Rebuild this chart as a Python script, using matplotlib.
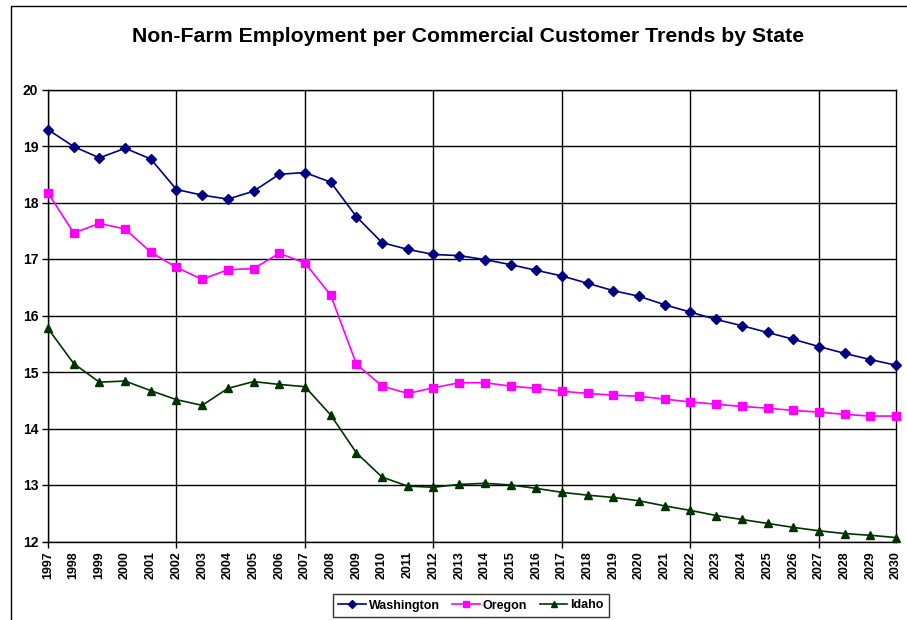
import matplotlib
matplotlib.use("Agg")
import matplotlib.pyplot as plt
from matplotlib.patches import Rectangle

years = list(range(1997, 2031))

washington = [19.29, 18.99, 18.79, 18.96, 18.77, 18.23, 18.13, 18.06, 18.20, 18.50,
              18.53, 18.36, 17.75, 17.29, 17.17, 17.08, 17.06, 16.99, 16.90, 16.80,
              16.70, 16.57, 16.44, 16.34, 16.19, 16.06, 15.93, 15.82, 15.70, 15.58,
              15.45, 15.33, 15.22, 15.12]
oregon = [18.17, 17.46, 17.63, 17.53, 17.12, 16.85, 16.64, 16.81, 16.83, 17.10,
          16.93, 16.36, 15.14, 14.75, 14.62, 14.72, 14.81, 14.81, 14.75, 14.71,
          14.66, 14.62, 14.59, 14.57, 14.52, 14.47, 14.43, 14.39, 14.36, 14.32,
          14.29, 14.25, 14.22, 14.22]
idaho = [15.77, 15.15, 14.82, 14.84, 14.67, 14.51, 14.41, 14.71, 14.83, 14.78,
         14.74, 14.24, 13.57, 13.14, 12.98, 12.96, 13.01, 13.03, 13.00, 12.94,
         12.87, 12.82, 12.78, 12.72, 12.63, 12.55, 12.46, 12.39, 12.32, 12.25,
         12.19, 12.14, 12.11, 12.07]

series = [
    ("Washington", washington, "#000080", "D", 5.0),
    ("Oregon", oregon, "#FF00FF", "s", 6.0),
    ("Idaho", idaho, "#003300", "^", 6.0),
]

plt.rcParams["font.family"] = ["Liberation Sans", "DejaVu Sans"]
plt.rcParams["font.weight"] = "bold"

fig = plt.figure(figsize=(9.07, 6.2), dpi=100)
ax = fig.add_axes([48 / 907, 1 - 541.5 / 620, 848 / 907, 452 / 620])

# chart-area frame (only top/left visible in the crop)
fig.patches.append(Rectangle((11 / 907, -0.1), 1.2, 1 - 6 / 620 + 0.1,
                             transform=fig.transFigure, fill=False,
                             edgecolor="black", lw=1.0))

handles = []
for name, vals, color, marker, ms in series:
    ln, = ax.plot(years, vals, color=color, lw=1.2, marker=marker, ms=ms,
                  mec=color, mfc=color, label=name, clip_on=False, zorder=3)
    handles.append(ln)

ax.set_xlim(1997, 2030)
ax.set_ylim(12, 20)
ax.set_yticks(range(12, 21))
ax.tick_params(axis="y", labelsize=10, length=4, width=1, pad=3)

major_years = years[::5]
minor_years = [y for y in years if y not in major_years]
ax.set_xticks(major_years)
ax.set_xticklabels([str(y) for y in major_years], rotation=90)
ax.set_xticks(minor_years, minor=True)
ax.set_xticklabels([str(y) for y in minor_years], rotation=90, minor=True)
ax.tick_params(axis="x", which="major", labelsize=9, length=4, width=1, pad=3)
ax.tick_params(axis="x", which="minor", labelsize=9, length=0, pad=7)

ax.grid(True, which="major", color="black", lw=1.0)
ax.set_axisbelow(True)
for sp in ax.spines.values():
    sp.set_linewidth(1.0)
    sp.set_color("black")

fig.text(0.516, 1 - 37 / 620, "Non-Farm Employment per Commercial Customer Trends by State",
         ha="center", va="center", fontsize=15.3, fontweight="bold")

leg = fig.legend(handles=handles, loc="center", bbox_to_anchor=(471 / 907, 1 - 605.5 / 620),
                 ncol=3, fontsize=9, frameon=True, fancybox=False, edgecolor="black",
                 handlelength=2.2, columnspacing=1.0, handletextpad=0.25,
                 borderpad=0.45, borderaxespad=0, markerscale=0.8)
leg.get_frame().set_linewidth(1.0)

fig.savefig("out.png", dpi=100)
